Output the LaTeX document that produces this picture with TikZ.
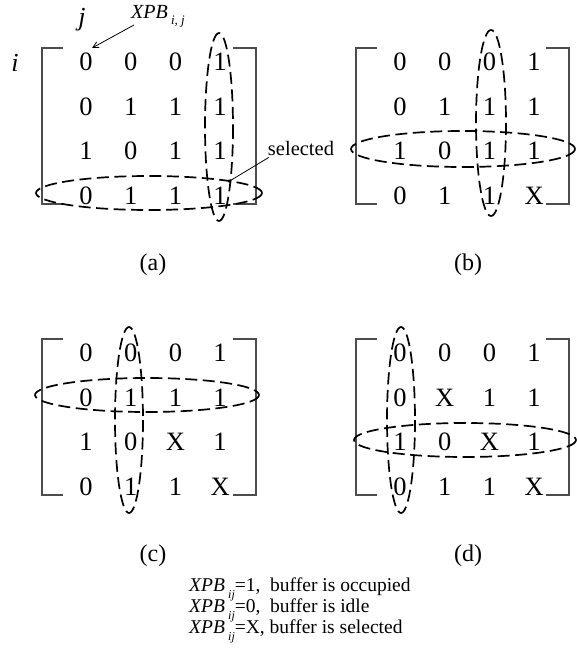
\documentclass[tikz,border=0pt]{standalone}
\usepackage{fontspec}
\setmainfont{Liberation Serif}
\usetikzlibrary{arrows.meta}

\newcommand\fsz[1]{\fontsize{#1}{#1}\selectfont}
% 4x4 grid of cell nodes: #1 name, #2 x of first column, #3 y of first row, #4 rows
\newcommand\putgrid[4]{%
  \foreach \rowlist [count=\r] in {#4} {
    \foreach \v [count=\c] in \rowlist {
      \node[cell] (#1-\r-\c) at ({#2+(\c-1)*44.7}, {#3+(\r-1)*44.5}) {\v};
    }
  }}
% square bracket pair: #1 left x, #2 right x, #3 top y, #4 bottom y
\newcommand\brackets[4]{%
  \draw[bracket] (#1+21,#3) -- (#1,#3) -- (#1,#4) -- (#1+21,#4);
  \draw[bracket] (#2-23,#3) -- (#2,#3) -- (#2,#4) -- (#2-23,#4);}

\tikzset{
  cell/.style={inner sep=0pt, font=\fsz{26.5}},
  bracket/.style={draw=black!70, line width=1.3pt},
  ring/.style={draw=black, line width=1.7pt, dash pattern=on 12pt off 5.5pt},
  caption/.style={inner sep=0pt, font=\fsz{24}},
  legend/.style={inner sep=0pt, anchor=base west, font=\fsz{19.5}},
  pointer/.style={line width=0.8pt},
}

\begin{document}
\begin{tikzpicture}[x=1pt, y=-1pt]
\useasboundingbox[fill=white] (0,0) rectangle (576,660);

% (a)
\brackets{42}{256}{48}{204}
\putgrid{a}{86}{62}{{0,0,0,1},{0,1,1,1},{1,0,1,1},{0,1,1,1}}
\draw[ring] (219,127) ellipse [x radius=14, y radius=94];
\draw[ring] (149,193) ellipse [x radius=113, y radius=17];
\node[cell, font=\fsz{26}\itshape] (jlab) at (82,20) {j};
\node[cell, font=\fsz{26}\itshape] (ilab) at (15,63) {i};
\node[inner sep=0pt, anchor=base west, font=\fsz{20}\itshape] (xpb) at (131,19)
  {XPB\raisebox{-6pt}{\fsz{13} i, j}};
\coordinate (xpbtail) at (134,25);
\coordinate (cellhead) at (92,48);
\draw[pointer, -{Straight Barb[length=6pt, width=6pt]}] (xpbtail) -- (cellhead);
\node[inner sep=0pt, font=\fsz{20.5}] (sel) at (301,148) {selected};
\coordinate (selhead) at (228,182);
\draw[pointer, -{Circle[open, length=3.5pt, width=3.5pt]}] (sel.south west) ++(1,2) coordinate (seltail) -- (selhead);
\node[caption] (capa) at (153,265) {(a)};

% (b)
\brackets{356}{569}{48}{204}
\putgrid{b}{400}{62}{{0,0,0,1},{0,1,1,1},{1,0,1,1},{0,1,1,X}}
\draw[ring] (491,123) ellipse [x radius=15, y radius=93];
\draw[ring] (463,149) ellipse [x radius=112, y radius=18];
\node[caption] (capb) at (468,265) {(b)};

% (c)
\brackets{42}{256}{339}{495}
\putgrid{c}{86}{353}{{0,0,0,1},{0,1,1,1},{1,0,X,1},{0,1,1,X}}
\draw[ring] (129,420) ellipse [x radius=14, y radius=93];
\draw[ring] (147,395) ellipse [x radius=112, y radius=17];
\node[caption] (capc) at (153,556) {(c)};

% (d)
\brackets{356}{569}{339}{495}
\putgrid{d}{400}{353}{{0,0,0,1},{0,X,1,1},{1,0,X,1},{0,1,1,X}}
\draw[ring] (401,420) ellipse [x radius=14, y radius=93];
\draw[ring] (465,440) ellipse [x radius=111, y radius=17];
\node[caption] (capd) at (468,556) {(d)};

% legend
\node[legend] (leg1) at (189,591) {\textit{XPB}\,\raisebox{-7pt}{\fsz{12}\textit{ij}}=1,~ buffer is occupied};
\node[legend] (leg2) at (189,612) {\textit{XPB}\,\raisebox{-7pt}{\fsz{12}\textit{ij}}=0,~ buffer is idle};
\node[legend] (leg3) at (189,633) {\textit{XPB}\,\raisebox{-7pt}{\fsz{12}\textit{ij}}=X, buffer is selected};
\end{tikzpicture}
\end{document}
